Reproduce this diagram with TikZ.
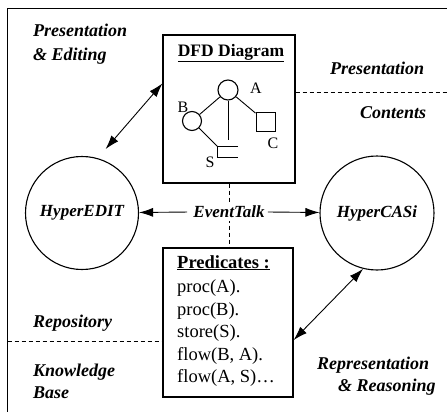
\documentclass[tikz,border=0pt]{standalone}
\usepackage{fontspec}
\setmainfont{Liberation Serif}
\usetikzlibrary{arrows.meta}
\begin{document}
\begin{tikzpicture}[x=1pt,y=-1pt,
  frame/.style={line width=1.6pt},
  box/.style={draw,line width=1.2pt,inner sep=0pt},
  proc/.style={draw,circle,line width=1.1pt,inner sep=0pt},
  mini/.style={draw,line width=0.9pt,inner sep=0pt},
  dashline/.style={line width=0.9pt,dash pattern=on 4pt off 3pt},
  arr/.style={line width=0.9pt,-{Latex[length=14pt,width=9pt]}},
  dbl/.style={line width=0.9pt,{Latex[length=14pt,width=9pt]}-{Latex[length=14pt,width=9pt]}},
  region/.style={font=\fontsize{18}{21}\selectfont\bfseries\itshape,anchor=west,inner sep=0pt},
  tool/.style={font=\fontsize{17}{20}\selectfont\bfseries\itshape},
  pred/.style={font=\fontsize{18.5}{22}\selectfont,anchor=base west,inner sep=0pt},
  tag/.style={font=\fontsize{16}{19}\selectfont,inner sep=0pt}
]
\useasboundingbox (0,0) rectangle (447,412);

% outer frame (left and top edges)
\draw[frame] (7.5,412) -- (7.5,8.5) -- (447,8.5);

% main components
\node[box,minimum width=132pt,minimum height=148pt] (dfd) at (229,109) {};
\node[box,minimum width=130pt,minimum height=149pt] (preds) at (228,322.5) {};
\node[draw,circle,line width=1.1pt,minimum size=113pt,inner sep=0pt,tool] (edit) at (82,213) {HyperEDIT};
\node[draw,circle,line width=1.1pt,minimum size=114pt,inner sep=0pt,tool] (casi) at (377,213) {HyperCASi};

% dashed separators
\coordinate (rsep) at (447,92);
\coordinate (lsep) at (7.5,341);
\draw[dashline] (dfd.south) -- (dfd.south |- preds.north);
\draw[dashline] (dfd.east |- rsep) -- (rsep);
\draw[dashline] (lsep) -- (preds.west |- lsep);

% event bus
\node[tool,fill=white,inner sep=3pt] (ev) at (229,212) {EventTalk};
\draw[arr,shorten <=3pt] (ev.west) -- (edit);
\draw[arr] (ev.east) -- (casi);

% links between editor / reasoner and shared data
\draw[dbl,shorten >=12pt] (dfd.159) -- (edit.74);
\draw[dbl] (preds.-15) -- (casi.256);

% DFD diagram content
\node[font=\fontsize{17.5}{20}\selectfont\bfseries,inner sep=0pt] (dtitle) at (231,53) {\underline{DFD Diagram}};
\node[proc,minimum size=20pt] (pa) at (228,90) {};
\node[proc,minimum size=19pt] (pb) at (192,121) {};
\node[mini,minimum size=19pt] (pc) at (265.5,121.5) {};
\node[inner sep=0pt,minimum width=20pt,minimum height=10pt] (ps) at (228,152) {};
\coordinate (pend) at (228,140);
\draw[line width=0.9pt] (ps.north east) -- (ps.north west) -- (ps.south west) -- (ps.south east);
\draw[line width=0.9pt] (pa) -- (pb);
\draw[line width=0.9pt] (pa) -- (pc);
\draw[line width=0.9pt] (pb) -- (ps.north west);
\draw[line width=0.9pt] (pa.south) -- (pend);
\node[tag] (la) at (256,88) {A};
\node[tag] (lb) at (183,107) {B};
\node[tag] (lc) at (273,143) {C};
\node[tag] (ls) at (210,162) {S};

% predicate listing
\node[pred] (p0) at (177,268) {\textbf{\underline{Predicates :}}};
\node[pred] (p1) at (177,292.5) {proc(A).};
\node[pred] (p2) at (177,315) {proc(B).};
\node[pred] (p3) at (177,337.5) {store(S).};
\node[pred] (p4) at (177,360) {flow(B, A).};
\node[pred] (p5) at (177,382) {flow(A, S)\dots};

% region labels
\node[region] (t1) at (33,30) {Presentation};
\node[region] (t2) at (33,56) {\& Editing};
\node[region] (t3) at (330,68) {Presentation};
\node[region] (t4) at (360,113) {Contents};
\node[region] (t5) at (33,323) {Repository};
\node[region] (t6) at (33,372) {Knowledge};
\node[region] (t7) at (33,393) {Base};
\node[region] (t8) at (317,365) {Representation};
\node[region] (t9) at (338,387) {\& Reasoning};
\end{tikzpicture}
\end{document}
